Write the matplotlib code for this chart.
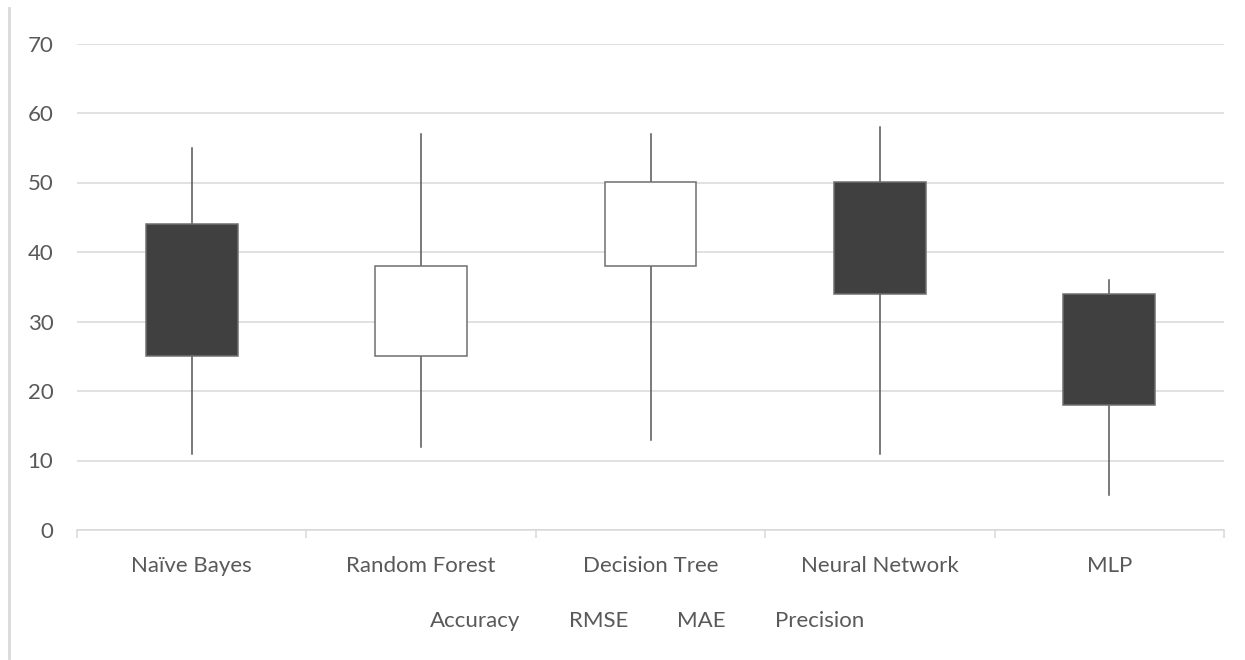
import matplotlib.pyplot as plt
from matplotlib.lines import Line2D
from matplotlib.patches import Rectangle

# Stock-style chart: open / high / low / close per classifier
models = ['Naïve Bayes', 'Random Forest', 'Decision Tree', 'Neural Network', 'MLP']
accuracy = [44, 25, 38, 50, 34]    # open
rmse = [55, 57, 57, 58, 36]        # high
mae = [11, 12, 13, 11, 5]          # low
precision = [25, 38, 50, 34, 18]   # close
series_names = ['Accuracy', 'RMSE', 'MAE', 'Precision']

plt.rcParams['font.family'] = ['Lato', 'DejaVu Sans']
text_col = '#595959'
grid_col = '#d9d9d9'
fs = 16

fig = plt.figure(figsize=(12.45, 6.6), dpi=100)
ax = fig.add_axes([77 / 1245, 1 - 530 / 660, 1147 / 1245, 486.5 / 660])

box_w = 0.4
for i in range(len(models)):
    o, h, l, c = accuracy[i], rmse[i], mae[i], precision[i]
    lo, hi = min(o, c), max(o, c)
    # wicks above and below the body
    ax.plot([i, i], [hi, h], color='#555555', lw=1.1, zorder=3)
    ax.plot([i, i], [l, lo], color='#555555', lw=1.1, zorder=3)
    face = '#404040' if c < o else 'white'
    ax.add_patch(Rectangle((i - box_w / 2, lo), box_w, hi - lo,
                           facecolor=face, edgecolor='#6f6f6f', lw=1.1, zorder=4))

ax.set_xlim(-0.5, len(models) - 0.5)
ax.set_ylim(0, 70)
ax.set_yticks(range(0, 71, 10))
ax.yaxis.grid(True, color=grid_col, lw=1.1)
ax.set_axisbelow(True)

ax.set_xticks(range(len(models)))
ax.set_xticklabels(models)
ax.set_xticks([k - 0.5 for k in range(len(models) + 1)], minor=True)
ax.tick_params(axis='x', which='major', length=0, pad=19, labelsize=fs, labelcolor=text_col)
ax.tick_params(axis='x', which='minor', length=6, color=grid_col, width=1.1)
ax.tick_params(axis='y', length=0, pad=17, labelsize=fs, labelcolor=text_col)

for s in ['top', 'right', 'left']:
    ax.spines[s].set_visible(False)
ax.spines['bottom'].set_color(grid_col)
ax.spines['bottom'].set_linewidth(1.1)

# legend entries carry no visible marker
handles = [Line2D([], [], linestyle='none') for _ in series_names]
fig.legend(handles, series_names, loc='center', bbox_to_anchor=(647 / 1245, 1 - 621 / 660),
           ncol=4, frameon=False, handlelength=0, handletextpad=0, columnspacing=2.2,
           fontsize=fs, labelcolor=text_col)

# left border of the chart area
fig.add_artist(Line2D([8.5 / 1245, 8.5 / 1245], [1 - 8 / 660, 1 - 658 / 660],
                      color=grid_col, lw=2))

fig.savefig('out.png', dpi=100)
